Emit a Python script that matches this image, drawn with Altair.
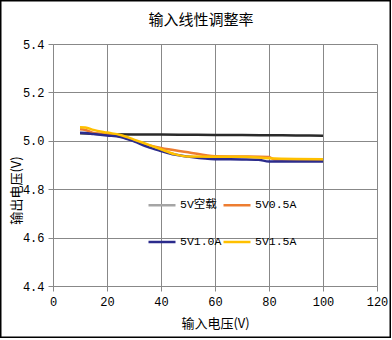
import altair as alt
import pandas as pd

series_names = ["5V空载", "5V0.5A", "5V1.0A", "5V1.5A"]
series_colors = ["#A5A5A5", "#ED7D31", "#2B2B8C", "#FFC000"]
noload_line_color = "#2A2A2A"

x_noload = [10, 15, 20, 30, 40, 50, 60, 70, 80, 90, 100]
y_noload = [5.031, 5.029, 5.027, 5.026, 5.026, 5.025, 5.024, 5.024, 5.023, 5.022, 5.021]

x_05 = [10, 12, 15, 20, 25, 30, 35, 40, 50, 60, 70, 80, 82, 90, 100]
y_05 = [5.048, 5.045, 5.032, 5.026, 5.018, 5.000, 4.983, 4.970, 4.953, 4.936, 4.935, 4.933, 4.923, 4.923, 4.922]

x_10 = [10, 12, 15, 20, 25, 30, 35, 40, 45, 50, 60, 70, 76, 80, 90, 100]
y_10 = [5.033, 5.032, 5.028, 5.022, 5.016, 4.998, 4.975, 4.958, 4.943, 4.935, 4.924, 4.923, 4.922, 4.914, 4.914, 4.914]

x_15 = [10, 12, 15, 20, 25, 30, 35, 40, 45, 50, 60, 70, 80, 90, 100]
y_15 = [5.056, 5.055, 5.045, 5.034, 5.024, 5.005, 4.985, 4.965, 4.945, 4.935, 4.934, 4.934, 4.928, 4.925, 4.924]

x_ticks = [0, 20, 40, 60, 80, 100, 120]
y_ticks = [4.4, 4.6, 4.8, 5.0, 5.2, 5.4]

rows = []
for name, xs, ys in [(series_names[0], x_noload, y_noload),
                     (series_names[1], x_05, y_05),
                     (series_names[2], x_10, y_10),
                     (series_names[3], x_15, y_15)]:
    for a, b in zip(xs, ys):
        rows.append({"series": name, "x": a, "y": b})
df = pd.DataFrame(rows)

# legend is laid out column by column: order so rows read 空载,0.5A / 1.0A,1.5A
legend_order = [series_names[0], series_names[2], series_names[1], series_names[3]]
legend_colors = [series_colors[series_names.index(s)] for s in legend_order]

W, H = 324, 242
FONT = "Liberation Mono, Noto Sans CJK SC"

xenc = alt.X("x:Q", scale=alt.Scale(domain=[0, 120], nice=False),
             axis=alt.Axis(values=x_ticks, title="输入电压(V)", titleX=W / 2, titleY=37,
                           titleBaseline="middle", titleAlign="center",
                           labelPadding=5, tickSize=5, labelFlush=False))
yenc = alt.Y("y:Q", scale=alt.Scale(domain=[4.4, 5.4], nice=False, zero=False),
             axis=alt.Axis(values=y_ticks, format=".1f", title="输出电压(V)",
                           titleX=-37, titleY=146, titleBaseline="middle", titleAlign="center",
                           titleAngle=270, labelPadding=4, tickSize=5))

noload = alt.Chart(df).transform_filter(alt.datum.series == series_names[0]).mark_line(
    interpolate="monotone", strokeWidth=2.5, color=noload_line_color
).encode(x=xenc, y=yenc)

others = alt.Chart(df).transform_filter(alt.datum.series != series_names[0]).mark_line(
    interpolate="monotone", strokeWidth=2.5
).encode(
    x=xenc, y=yenc,
    color=alt.Color("series:N", scale=alt.Scale(domain=legend_order, range=legend_colors),
                    sort=legend_order,
                    legend=alt.Legend(title=None, orient="none", legendX=94, legendY=146,
                                      columns=2, symbolType="stroke", symbolSize=729,
                                      symbolStrokeWidth=2.5, labelFontSize=11.5, labelFont=FONT,
                                      labelOffset=3, columnPadding=-14, rowPadding=16, padding=0,
                                      labelColor="#000000"))
)

border = alt.Chart(pd.DataFrame({"b": [0]})).mark_rect(
    fill=None, stroke="#000000", strokeWidth=1.5, clip=False
).encode(x=alt.value(-52.25), x2=alt.value(337.25), y=alt.value(-43.25), y2=alt.value(293.25))

chart = alt.layer(noload, others, border).properties(
    width=W, height=H,
    title=alt.TitleParams("输入线性调整率", font="Noto Sans CJK SC", fontSize=15,
                          fontWeight="normal", color="#000000", anchor="middle",
                          dx=-14, dy=44, offset=16),
    autosize=alt.AutoSizeParams(type="none"),
    padding={"left": 53, "top": 44, "right": 15, "bottom": 54},
    background="#FFFFFF"
).configure_view(stroke=None).configure_axis(
    gridColor="#888888", gridWidth=1, domainColor="#888888", tickColor="#888888",
    labelFont=FONT, labelFontSize=12, labelColor="#000000",
    titleFont="Noto Sans CJK SC", titleFontSize=13, titleFontWeight="normal", titleColor="#000000"
)

chart.save("out.html", embed_options={"renderer": "svg", "actions": False})
